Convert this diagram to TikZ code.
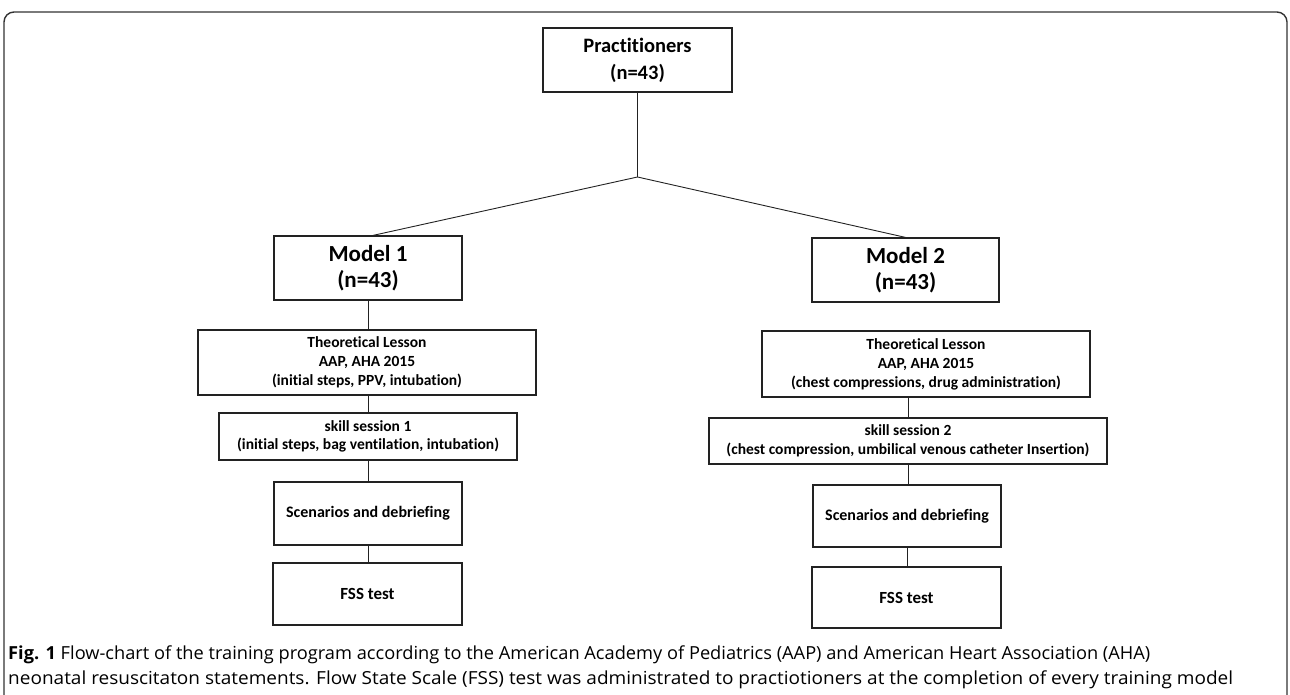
\documentclass[tikz,border=0pt]{standalone}
\usepackage{fontspec}
\setmainfont{Carlito}[Ligatures={NoCommon}]
\newfontfamily\capfont{Open Sans}
\usetikzlibrary{calc}
\definecolor{boxline}{HTML}{222222}
\definecolor{frameline}{HTML}{333333}
\tikzset{
  box/.style={draw=boxline, line width=1.2pt, align=center, inner sep=0pt, font=\bfseries},
  conn/.style={draw=boxline, line width=0.9pt},
}
\newcommand{\fs}[2]{\fontsize{#1}{#2}\selectfont}
\begin{document}
\begin{tikzpicture}[x=1pt,y=-1pt]
\useasboundingbox (0,0) rectangle (1290,695);
\begin{scope}
\clip (0,0) rectangle (1290,695);
\draw[frameline, line width=1.4pt, rounded corners=10pt] (4,12) rectangle (1287,730);
\end{scope}
% nodes
\node[box, minimum width=189pt, minimum height=64pt, font=\bfseries\fs{20.5}{27}] (prac) at (637.5,60) {Practitioners\\(n=43)};
\node[box, minimum width=188pt, minimum height=64pt, font=\bfseries\fs{23}{26}] (m1) at (368,268) {Model 1\\(n=43)};
\node[box, minimum width=338pt, minimum height=65pt, font=\bfseries\fs{15.5}{19}] (th1) at (367,362.5) {Theoretical Lesson\\AAP, AHA 2015\\(initial steps, PPV, intubation)};
\node[box, minimum width=298pt, minimum height=47pt, font=\bfseries\fs{15.5}{18.5}] (sk1) at (368,436.5) {skill session 1\\(initial steps, bag ventilation, intubation)};
\node[box, minimum width=188pt, minimum height=63pt, font=\bfseries\fs{16}{20}] (sc1) at (368,513.5) {Scenarios and debriefing};
\node[box, minimum width=189pt, minimum height=62pt, font=\bfseries\fs{17}{20}] (fs1) at (367.5,594) {FSS test};
\node[box, minimum width=187pt, minimum height=64pt, font=\bfseries\fs{23}{26}] (m2) at (905.5,270) {Model 2\\(n=43)};
\node[box, minimum width=328pt, minimum height=66pt, font=\bfseries\fs{15.5}{19}] (th2) at (926,364) {Theoretical Lesson\\AAP, AHA 2015\\(chest compressions, drug administration)};
\node[box, minimum width=398pt, minimum height=46pt, font=\bfseries\fs{15.5}{18.5}] (sk2) at (908,441) {skill session 2\\(chest compression, umbilical venous catheter Insertion)};
\node[box, minimum width=188pt, minimum height=62pt, font=\bfseries\fs{16}{20}] (sc2) at (907,516) {Scenarios and debriefing};
\node[box, minimum width=189pt, minimum height=61pt, font=\bfseries\fs{17}{20}] (fs2) at (906.5,597.5) {FSS test};
% connectors
\coordinate (j) at (637.5,177);
\draw[conn] (prac.south) -- (j);
\draw[conn] (j) -- ($(m1.north)+(5,0)$);
\draw[conn] (j) -- (m2.north);
\draw[conn] (m1.south) -- (m1.south |- th1.north);
\draw[conn] (sk1.north) -- (sk1.north |- th1.south);
\draw[conn] (sk1.south) -- (sk1.south |- sc1.north);
\draw[conn] (sc1.south) -- (sc1.south |- fs1.north);
\draw[conn] ($(m2.south)+(2,0)$) -- ($(m2.south)+(2,0)$ |- th2.north);
\draw[conn] (sk2.north) -- (sk2.north |- th2.south);
\draw[conn] (sk2.south) -- (sk2.south |- sc2.north);
\draw[conn] (sc2.south) -- (sc2.south |- fs2.north);
% caption
\node[anchor=west, inner sep=0pt, font=\capfont\fs{18}{22}] (cap1) at (8,655) {\resizebox{1142pt}{\height}{\textbf{Fig. 1} Flow-chart of the training program according to the American Academy of Pediatrics (AAP) and American Heart Association (AHA)}};
\node[anchor=west, inner sep=0pt, font=\capfont\fs{18}{22}] (cap2) at (8,680) {\resizebox{1225pt}{\height}{neonatal resuscitaton statements. Flow State Scale (FSS) test was administrated to practiotioners at the completion of every training model}};
\end{tikzpicture}
\end{document}
